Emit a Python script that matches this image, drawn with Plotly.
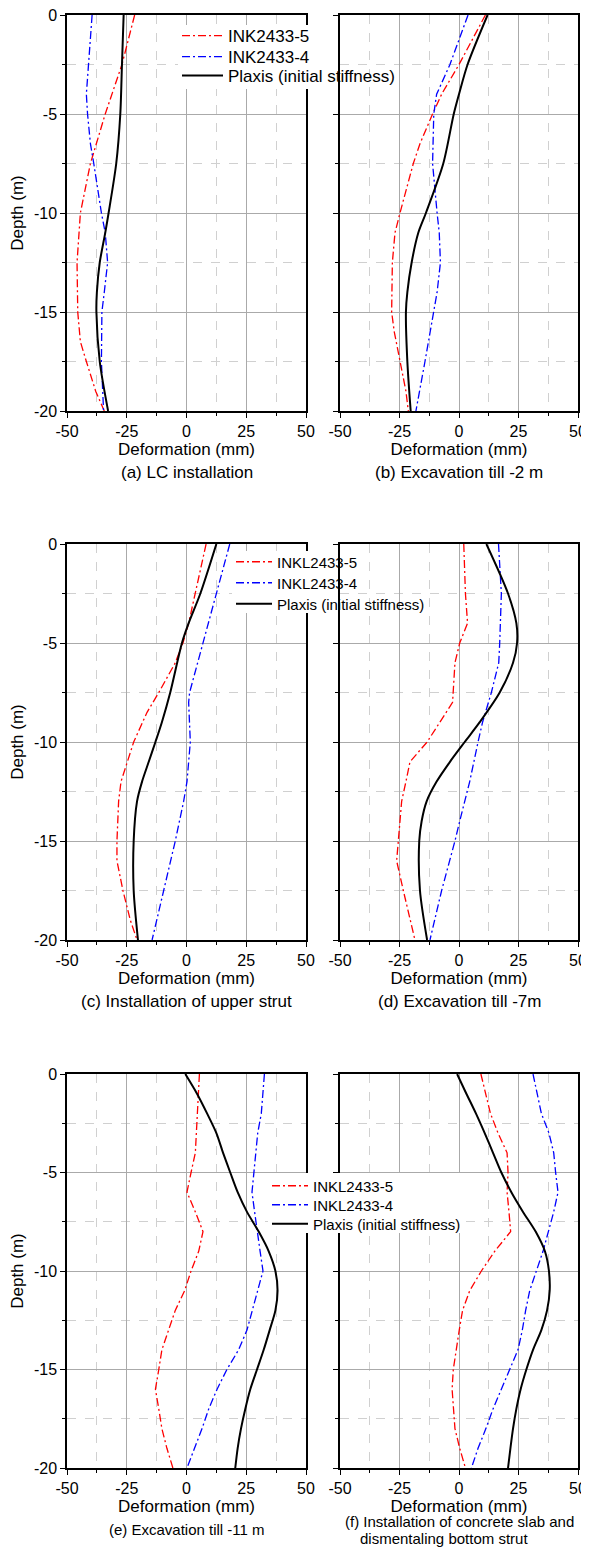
import plotly.graph_objects as go

# ---------------- data (deformation in mm, depth in m) ----------------
# (a) LC installation
a_red_d = [0, -2.5, -5, -7.5, -10, -12.5, -15, -16.5, -17.5, -19, -20]
a_red_v = [-21.7, -27, -34, -40.2, -44.4, -45.8, -45.5, -44.4, -41.9, -38, -34.4]
a_blue_d = [0, -2.5, -4, -5, -6.5, -7.5, -10, -11, -12.5, -14, -15, -17.5, -20]
a_blue_v = [-39.5, -41, -41.9, -41.4, -40.2, -38.8, -35.6, -34, -33, -34.4, -35.4, -35.6, -34.7]
a_blk_d = [0, -2.5, -5, -7.5, -10, -11, -12.5, -14, -15, -17.5, -20]
a_blk_v = [-26.3, -27, -27.7, -29.4, -32.6, -34, -36.3, -37.5, -37.7, -36.3, -32.8]

# (b) Excavation till -2 m
b_red_d = [0, -2.5, -4, -5, -6.5, -7.5, -10, -11, -12.5, -15, -16, -17.5, -19, -20]
b_red_v = [11.1, 0, -7.3, -11.1, -16.4, -19.2, -24.8, -26.9, -28, -28.3, -27.2, -24.8, -22.3, -21.3]
b_blue_d = [0, -2.5, -4, -5, -7.5, -9, -10, -11, -12.5, -14, -15, -17.5, -20]
b_blue_v = [3.8, -3.8, -9.4, -10.6, -11.1, -10.1, -9.2, -8.3, -7.8, -9.2, -10.6, -14.3, -18.1]
b_blk_d = [0, -2.5, -4, -5, -7.5, -10, -11, -12.5, -14, -15, -17.5, -20]
b_blk_v = [12, 3.6, 0, -2.2, -6.6, -13.9, -17.1, -19.9, -21.7, -22.3, -21.7, -20.3]

# (c) Installation of upper strut
c_red_d = [0, -2.5, -4, -5, -6, -7.5, -8.5, -10, -11, -12, -13, -15, -16, -17.5, -19, -20]
c_red_v = [8.2, 3.7, 0.9, -1.5, -4.7, -11.6, -16.5, -22.1, -24.9, -27.4, -28.4, -29.1, -29.1, -26.6, -23.5, -20.7]
c_blue_d = [0, -2.5, -5, -6, -7.5, -8, -10, -12, -13, -15, -17.5, -20]
c_blue_v = [18.1, 12.5, 6.9, 4.7, 1.3, 0.9, 1.6, 0.2, -1.2, -4.7, -9.6, -14.4]
c_blk_d = [0, -2.5, -4, -5, -7.5, -9, -10, -11, -12, -13, -15, -17.5, -20]
c_blk_v = [12.5, 5.8, 0.9, -1.9, -6.8, -10.3, -13, -15.8, -18.6, -20.7, -22.1, -22.1, -20.3]

# (d) Excavation till -7m
d_red_d = [0, -2.5, -4, -5, -6, -7.5, -8, -10, -11, -12, -13, -15, -16, -17.5, -20]
d_red_v = [2, 2.7, 3.6, 0.3, -1.7, -2.4, -2.7, -13.4, -20.6, -22.3, -24.1, -25.5, -26.2, -23.4, -18.5]
d_blue_d = [0, -2.5, -5, -6, -7.5, -9, -10, -12, -14, -15, -17.5, -20]
d_blue_v = [16.6, 17.8, 17.1, 16.7, 13.6, 9.9, 8, 4.5, 0.3, -1.7, -7.3, -12.2]
d_blk_d = [0, -2.5, -4, -5, -6, -7.5, -9, -10, -11, -12, -13, -14, -15, -17.5, -20]
d_blk_v = [11.5, 20.6, 24.1, 24.4, 22.7, 17.1, 8.7, 2.4, -3.8, -9.4, -13.6, -15.7, -16.7, -16.4, -13.4]

# (e) Excavation till -11 m  and  (f) concrete slab: depth every 1 m
ef_depth = [0, -1, -2, -3, -4, -5, -6, -7, -8, -9, -10, -11, -12, -13, -14, -15, -16, -17, -18, -19, -20]
e_red_v = [5.4, 5.0, 4.7, 4.2, 3.7, 1.9, 0.2, 3.7, 6.9, 5.1, 1.9, -0.8, -4.7, -7.5, -10.3, -11.6, -13, -11.6, -10.3, -8.2, -5.7]
e_blue_v = [32.6, 32, 31.3, 29.8, 29, 28.4, 27.4, 28.5, 29.5, 30.8, 32, 29.7, 27.4, 25.3, 21.8, 16.9, 12.8, 9.3, 6.5, 3.4, 0.2]
e_blk_v = [-0.5, 4.4, 8.6, 12.5, 15.3, 18.3, 21.4, 25.3, 30.2, 34.4, 37.2, 38.1, 37.2, 34.8, 32.3, 29.5, 26.7, 24.6, 22.8, 21.4, 20.4]
f_red_v = [9.2, 11.2, 13.2, 16.4, 20.2, 20.6, 20.2, 21, 21.7, 15, 9.4, 4.5, 1.5, 0.1, -1.3, -2.4, -2.9, -2.4, -1.7, 0.3, 2.7]
f_blue_v = [31.1, 32.8, 34.6, 37.8, 39.8, 40.6, 41.6, 39.8, 37.4, 35.3, 32.5, 29.7, 28, 26.6, 24.8, 21.3, 17.8, 14.3, 11.3, 8, 5.2]
f_blk_v = [-0.8, 3.1, 7.1, 10.8, 14.3, 17.8, 22, 26.9, 32.2, 36.1, 37.8, 38.1, 37, 34.6, 31.1, 28.3, 25.9, 24.1, 22.7, 21.6, 20.6]

legend_names_row1 = ["INK2433-5", "INK2433-4", "Plaxis (initial stiffness)"]
legend_names_row23 = ["INKL2433-5", "INKL2433-4", "Plaxis (initial stiffness)"]
captions = ["(a) LC installation", "(b) Excavation till -2 m",
            "(c) Installation of upper strut", "(d) Excavation till -7m",
            "(e) Excavation till -11 m",
            "(f) Installation of concrete slab and"]
caption_f2 = "dismentaling bottom strut"

x_tickvals = [-50, -25, 0, 25, 50]
x_ticktext = ["-50", "-25", "0", "25", "50"]
x_minor = [-37.5, -12.5, 12.5, 37.5]
y_tickvals = [0, -5, -10, -15, -20]
y_ticktext = ["0", "-5", "-10", "-15", "-20"]
y_minor = [-2.5, -7.5, -12.5, -17.5]

# ---------------- layout geometry ----------------
OFF = 8                      # page body margin
W, H = 589 - OFF, 1548 - OFF
FONT = "Arial, 'Liberation Sans', sans-serif"
MAJ = "#aaaaaa"
MIN = "#d0d0d0"

def px(xp):                  # page pixel -> paper fraction
    return (xp - OFF) / W

def py(yp):
    return 1 - (yp - OFF) / H

col_dom = [[px(67), px(306)], [px(340), px(578)]]
row_px = [(15, 411), (544, 940), (1074, 1468)]

# legend layout per row: box-left (page px), item centres (page px), font size, item width,
# white background box (x0, y0, x1, y1) in page px
legend_rows = [
    (177, [36, 57, 76], 17, 41, (178, 25, 338, 89)),
    (231, [562, 583, 604], 15, 36, (232, 551, 338, 613)),
    (267, [1186, 1205, 1224], 15, 36, (268, 1173, 466, 1233)),
]

panels = [
    (a_red_d, a_red_v, a_blue_d, a_blue_v, a_blk_d, a_blk_v),
    (b_red_d, b_red_v, b_blue_d, b_blue_v, b_blk_d, b_blk_v),
    (c_red_d, c_red_v, c_blue_d, c_blue_v, c_blk_d, c_blk_v),
    (d_red_d, d_red_v, d_blue_d, d_blue_v, d_blk_d, d_blk_v),
    (ef_depth, e_red_v, ef_depth, e_blue_v, ef_depth, e_blk_v),
    (ef_depth, f_red_v, ef_depth, f_blue_v, ef_depth, f_blk_v),
]

DASH = "8px,3px,2px,3px"

def legend_id(row, k):
    idx = row * 3 + k + 1
    return "legend" if idx == 1 else f"legend{idx}"

fig = go.Figure()
layout_axes = {}
annotations = []
for i, (rd, rv, bd, bv, kd, kv) in enumerate(panels):
    row, col = divmod(i, 2)
    n = i + 1
    xname = "x" if n == 1 else f"x{n}"
    yname = "y" if n == 1 else f"y{n}"
    names = legend_names_row1 if row == 0 else legend_names_row23
    show = col == 0
    series = [
        (rv, rd, dict(color="#ff0000", width=1.3, dash=DASH)),
        (bv, bd, dict(color="#0000ff", width=1.3, dash=DASH)),
        (kv, kd, dict(color="#000000", width=2, shape="spline", smoothing=0.8)),
    ]
    for k, (xv, yv, ln) in enumerate(series):
        fig.add_trace(go.Scatter(x=xv, y=yv, mode="lines", name=names[k],
                                 legend=legend_id(row, k), showlegend=show,
                                 line=ln, xaxis=xname, yaxis=yname))

    top, bot = row_px[row]
    xkey = "xaxis" if n == 1 else f"xaxis{n}"
    ykey = "yaxis" if n == 1 else f"yaxis{n}"
    layout_axes[xkey] = dict(
        domain=col_dom[col], anchor=yname, range=[-50, 50], automargin=False,
        tickmode="array", tickvals=x_tickvals, ticktext=x_ticktext, ticklabeloverflow="allow",
        ticks="outside", ticklen=5, tickwidth=1.2, tickcolor="black",
        showline=True, linecolor="black", linewidth=1.5, mirror=True,
        showgrid=True, gridcolor=MAJ, gridwidth=1, zeroline=False,
        tickfont=dict(family=FONT, size=16, color="black"),
        title=dict(text="Deformation (mm)", font=dict(family=FONT, size=17, color="black"), standoff=1),
        minor=dict(tickmode="array", tickvals=x_minor, ticks="outside", ticklen=3, tickcolor="black",
                   showgrid=True, gridcolor=MIN, griddash="dash", gridwidth=1),
    )
    layout_axes[ykey] = dict(
        domain=[py(bot), py(top)], anchor=xname, range=[-20, 0], automargin=False,
        tickmode="array", tickvals=y_tickvals, ticktext=y_ticktext, ticklabeloverflow="allow",
        ticks="outside", ticklen=5, tickwidth=1.2, tickcolor="black",
        showline=True, linecolor="black", linewidth=1.5, mirror=True,
        showgrid=True, gridcolor=MAJ, gridwidth=1, zeroline=False,
        showticklabels=(col == 0),
        tickfont=dict(family=FONT, size=16, color="black"),
        minor=dict(tickmode="array", tickvals=y_minor, ticks="outside", ticklen=3, tickcolor="black",
                   showgrid=True, gridcolor=MIN, griddash="dash", gridwidth=1),
    )
    if col == 0:
        layout_axes[ykey]["title"] = dict(text="Depth (m)", font=dict(family=FONT, size=17, color="black"), standoff=6)

    cx = (col_dom[col][0] + col_dom[col][1]) / 2
    if row < 2:
        annotations.append(dict(text=captions[i], x=cx, y=py(bot + 61), xref="paper", yref="paper",
                                xanchor="center", yanchor="middle", showarrow=False,
                                font=dict(family=FONT, size=17, color="black")))
    elif i == 4:
        annotations.append(dict(text=captions[i], x=cx, y=py(bot + 61), xref="paper", yref="paper",
                                xanchor="center", yanchor="middle", showarrow=False,
                                font=dict(family=FONT, size=15, color="black")))
    else:
        annotations.append(dict(text=captions[i], x=cx, y=py(bot + 53), xref="paper", yref="paper",
                                xanchor="center", yanchor="middle", showarrow=False,
                                font=dict(family=FONT, size=15, color="black")))
        annotations.append(dict(text=caption_f2, x=px(358), y=py(bot + 70), xref="paper", yref="paper",
                                xanchor="left", yanchor="middle", showarrow=False,
                                font=dict(family=FONT, size=15, color="black")))

legends = {}
shapes = []
for row, (lx, ys, fs, iw, box) in enumerate(legend_rows):
    for k, yc in enumerate(ys):
        legends[legend_id(row, k)] = dict(
            x=px(lx), y=py(yc), xanchor="left", yanchor="middle", bgcolor="rgba(0,0,0,0)",
            borderwidth=0, font=dict(family=FONT, size=fs, color="black"),
            itemwidth=iw, tracegroupgap=0)
    x0, y0, x1, y1 = box
    shapes.append(dict(type="rect", xref="paper", yref="paper", layer="above",
                       x0=px(x0), x1=px(x1), y0=py(y1), y1=py(y0),
                       fillcolor="white", line=dict(width=0)))

fig.update_layout(
    template="none",
    width=W, height=H, margin=dict(l=0, r=0, t=0, b=0, autoexpand=False),
    plot_bgcolor="white", paper_bgcolor="white",
    font=dict(family=FONT, color="black"),
    annotations=annotations,
    shapes=shapes,
    **legends,
    **layout_axes,
)

fig.write_html("out.html")
